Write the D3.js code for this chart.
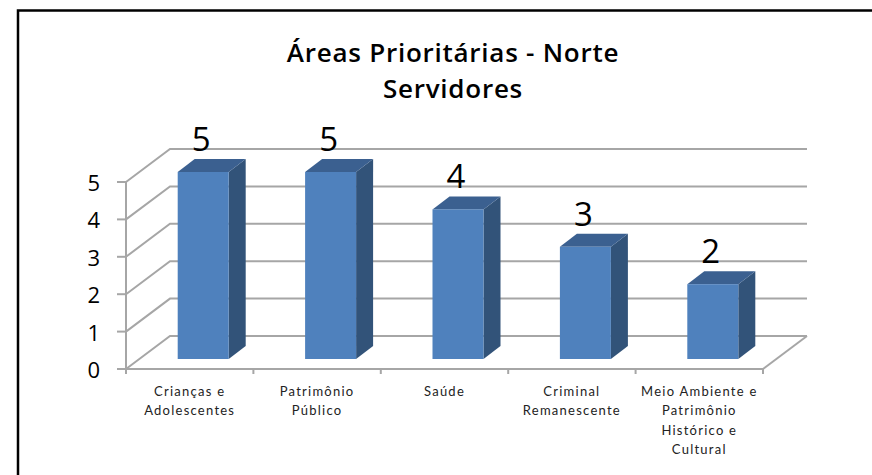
<!DOCTYPE html>
<html>
<head>
<meta charset="utf-8">
<script src="https://cdn.jsdelivr.net/npm/d3@7"></script>
<style>
  html, body { margin: 0; padding: 0; background: #fff; }
  svg { display: block; }
  text { font-family: "Open Sans", sans-serif; fill: #000; }
  text.cat { font-family: Lato, sans-serif; fill: #222; }
</style>
</head>
<body>
<div id="chart"></div>
<script>
// values
const categories = [
    ["Crianças e", "Adolescentes"],
    ["Patrimônio", "Público"],
    ["Saúde"],
    ["Criminal", "Remanescente"],
    ["Meio Ambiente e", "Patrimônio", "Histórico e", "Cultural"]
];
const values = [5, 5, 4, 3, 2];
const yTicks = [0, 1, 2, 3, 4, 5];
const titleLines = ["Áreas Prioritárias - Norte", "Servidores"];

const width = 872, height = 475;

// the front edge of the chart floor, and how far the back wall is pushed
const x = d3.scaleBand().domain(d3.range(values.length)).range([126, 763]);
const y = d3.scaleLinear().domain([0, 5]).range([369, 182]);
const wall = { dx: 44, dy: -33 };
const bar = { width: 51, dx: 17, dy: -13, shiftX: 13.5, shiftY: -10 };

const svg = d3.select("#chart")
    .append("svg")
    .attr("width", width)
    .attr("height", height);

// outer frame, cropped on the right and at the bottom
svg.append("path")
    .attr("d", "M18,475V10.5H872")
    .attr("fill", "none")
    .attr("stroke", "#000")
    .attr("stroke-width", 2.5);

// title
svg.selectAll(".title")
    .data(titleLines)
    .join("text")
    .attr("class", "title")
    .attr("x", 453)
    .attr("y", (d, i) => 62 + i * 36)
    .attr("text-anchor", "middle")
    .attr("font-size", 26)
    .attr("font-weight", 600)
    .attr("letter-spacing", 0.75)
    .text(d => d);

// gridlines: side wall then back wall
const gridColor = "#a6a6a6";
const grid = svg.append("g")
    .attr("fill", "none")
    .attr("stroke", gridColor)
    .attr("stroke-width", 2);

grid.selectAll("path")
    .data(yTicks)
    .join("path")
    .attr("d", d => `M${x.range()[0]},${y(d)}l${wall.dx},${wall.dy}H${x.range()[1] + wall.dx}`);

// floor edge on the right
grid.append("path")
    .attr("d", `M${x.range()[1]},${y(0)}l${wall.dx},${wall.dy}`);

// axis lines
grid.append("path")
    .attr("d", `M${x.range()[0]},${y(5)}V${y(0)}H${x.range()[1]}`);

// tick marks
grid.selectAll(".ytick")
    .data(yTicks)
    .join("line")
    .attr("class", "ytick")
    .attr("x1", x.range()[0] - 9)
    .attr("x2", x.range()[0])
    .attr("y1", d => y(d))
    .attr("y2", d => y(d));

grid.selectAll(".xtick")
    .data(d3.range(values.length + 1))
    .join("line")
    .attr("class", "xtick")
    .attr("x1", d => x.range()[0] + d * x.step())
    .attr("x2", d => x.range()[0] + d * x.step())
    .attr("y1", y(0))
    .attr("y2", y(0) + 5);

// y labels
svg.selectAll(".ylabel")
    .data(yTicks)
    .join("text")
    .attr("class", "ylabel")
    .attr("x", 100)
    .attr("y", d => y(d) + 9)
    .attr("text-anchor", "end")
    .attr("font-size", 22)
    .text(d => d);

// bars: side, top, front
const barLeft = i => x(i) + (x.step() - bar.width) / 2 + bar.shiftX;
const barBase = y(0) + bar.shiftY;
const barTop = d => y(d) + bar.shiftY;

const bars = svg.selectAll(".bar")
    .data(values)
    .join("g")
    .attr("class", "bar");

bars.append("path")
    .attr("fill", "#325379")
    .attr("d", (d, i) => `M${barLeft(i) + bar.width},${barTop(d)}l${bar.dx},${bar.dy}V${barBase + bar.dy}l${-bar.dx},${-bar.dy}Z`);

bars.append("path")
    .attr("fill", "#3b6090")
    .attr("d", (d, i) => `M${barLeft(i)},${barTop(d)}l${bar.dx},${bar.dy}h${bar.width}l${-bar.dx},${-bar.dy}Z`);

bars.append("rect")
    .attr("fill", "#4f81bd")
    .attr("x", (d, i) => barLeft(i))
    .attr("y", d => barTop(d))
    .attr("width", bar.width)
    .attr("height", d => barBase - barTop(d));

// value labels
svg.selectAll(".value")
    .data(values)
    .join("text")
    .attr("class", "value")
    .attr("x", (d, i) => barLeft(i) + bar.width / 2 - 2)
    .attr("y", d => barTop(d) - 21)
    .attr("text-anchor", "middle")
    .attr("font-size", 33)
    .text(d => d);

// category labels
svg.selectAll(".cat")
    .data(categories)
    .join("text")
    .attr("class", "cat")
    .attr("text-anchor", "middle")
    .attr("font-size", 13)
    .attr("letter-spacing", 1.25)
    .selectAll("tspan")
    .data((d, i) => d.map((line, j) => ({ line, j, i })))
    .join("tspan")
    .attr("x", d => x(d.i) + x.step() / 2)
    .attr("y", d => 396 + d.j * 19.3)
    .text(d => d.line);
</script>
</body>
</html>
